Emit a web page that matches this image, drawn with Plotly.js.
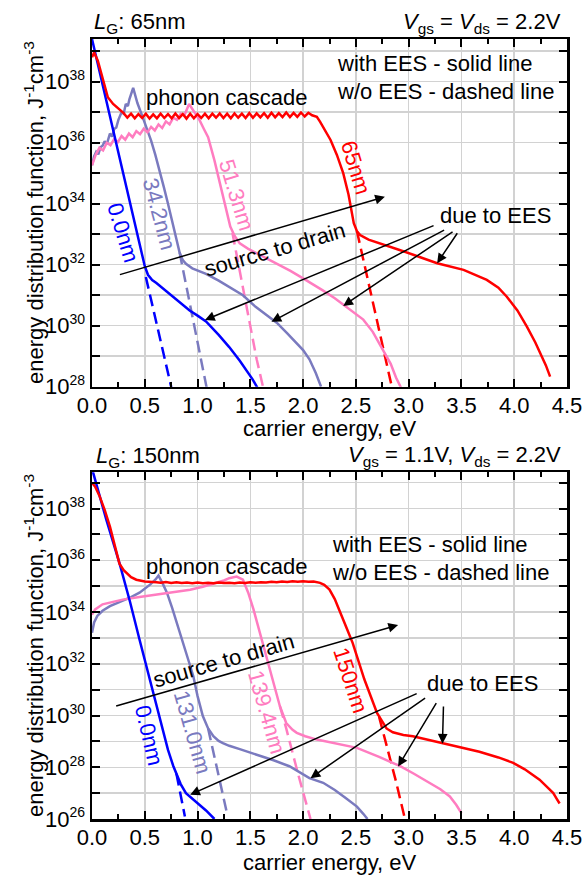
<!DOCTYPE html>
<html>
<head>
<meta charset="utf-8">
<script src="https://cdn.plot.ly/plotly-3.0.1.min.js"></script>
<style>html,body{margin:0;padding:0;background:#fff;}#chart{width:583px;height:878px;}</style>
</head>
<body>
<div id="chart"></div>
<script>
// ===== DATA: energies in eV, values as log10 of J^-1 cm^-3 =====
// ---- Top panel, L_G = 65nm ----
const blueTopE   = [0, 0.1, 0.2, 0.3, 0.4, 0.5, 0.53, 0.57, 0.61, 0.7, 0.8, 0.925, 1.0, 1.08, 1.2, 1.3, 1.4, 1.46, 1.52, 1.57];
const blueTopLog = [39.4, 37.9, 36.4, 34.9, 33.45, 31.95, 31.67, 31.5, 31.4, 31.15, 30.85, 30.5, 30.33, 30.14, 29.7, 29.3, 28.85, 28.55, 28.25, 27.95];
const blueTopDashE   = [0.51, 0.6, 0.7, 0.76];
const blueTopDashLog = [31.6, 30.25, 28.75, 27.85];

const lavTopE   = [0, 0.02, 0.04, 0.06, 0.08, 0.1, 0.12, 0.14, 0.17, 0.19, 0.21, 0.23, 0.25, 0.28, 0.3, 0.32, 0.34, 0.355, 0.39, 0.43, 0.48, 0.52, 0.56, 0.6, 0.64, 0.68, 0.72, 0.76, 0.8, 0.83, 0.86, 0.89, 0.95, 1.02, 1.08, 1.2, 1.32, 1.43, 1.55, 1.65, 1.75, 1.85, 1.93, 2.0, 2.06, 2.12, 2.17];
const lavTopLog = [35.26, 35.55, 35.7, 35.62, 35.85, 35.9, 36.05, 35.95, 36.3, 36.2, 36.45, 36.5, 36.75, 37.0, 36.95, 37.27, 37.2, 37.43, 37.8, 37.3, 36.84, 36.45, 36.07, 35.6, 35.1, 34.55, 34.0, 33.45, 32.9, 32.4, 32.15, 32.03, 31.88, 31.78, 31.7, 31.48, 31.24, 31.0, 30.62, 30.35, 30.1, 29.75, 29.45, 29.2, 28.9, 28.45, 28.0];
const lavTopDashE   = [0.83, 0.9, 0.97, 1.03, 1.09];
const lavTopDashLog = [32.4, 31.2, 30.0, 28.95, 27.9];

const pinkTopE   = [0, 0.035, 0.07, 0.105, 0.14, 0.175, 0.21, 0.245, 0.28, 0.315, 0.35, 0.385, 0.42, 0.455, 0.49, 0.525, 0.56, 0.595, 0.63, 0.665, 0.7, 0.735, 0.77, 0.805, 0.84, 0.875, 0.92, 0.97, 1.02, 1.06, 1.1, 1.16, 1.22, 1.27, 1.31, 1.35, 1.4, 1.48, 1.56, 1.65, 1.75, 1.88, 2.0, 2.1, 2.19, 2.3, 2.38, 2.48, 2.57, 2.66, 2.76, 2.83, 2.88, 2.93];
const pinkTopLog = [35.26, 35.6, 35.83, 35.75, 36.0, 35.92, 36.12, 36.02, 36.22, 36.1, 36.3, 36.18, 36.38, 36.28, 36.46, 36.34, 36.52, 36.4, 36.6, 36.48, 36.7, 36.6, 36.82, 36.75, 36.95, 36.9, 37.27, 37.0, 36.73, 36.45, 36.18, 35.42, 34.55, 33.75, 33.25, 32.95, 32.7, 32.52, 32.38, 32.22, 32.05, 31.8, 31.55, 31.35, 31.15, 30.9, 30.69, 30.45, 30.2, 29.8, 29.2, 28.75, 28.3, 27.95];
const pinkTopDashE   = [1.33, 1.4, 1.48, 1.56, 1.63];
const pinkTopDashLog = [33.05, 31.75, 30.3, 28.9, 27.85];

const redTopE   = [0, 0.02, 0.055, 0.1, 0.15, 0.2, 0.26, 0.3,
  0.335, 0.37, 0.405, 0.44, 0.475, 0.51, 0.545, 0.58, 0.615, 0.65, 0.685, 0.72, 0.755, 0.79, 0.825, 0.86, 0.895, 0.93, 0.965, 1.0, 1.035, 1.07, 1.105, 1.14, 1.175, 1.21, 1.245, 1.28, 1.315, 1.35, 1.385, 1.42, 1.455, 1.49, 1.525, 1.56, 1.595, 1.63, 1.665, 1.7, 1.735, 1.77, 1.805, 1.84, 1.875, 1.91, 1.945, 1.98, 2.015, 2.05, 2.085,
  2.13, 2.16, 2.2, 2.26, 2.32, 2.38, 2.43, 2.46, 2.48, 2.51, 2.54, 2.62, 2.73, 2.9, 3.05, 3.27, 3.52, 3.74, 3.85, 3.93, 4.03, 4.12, 4.2, 4.25, 4.3, 4.34];
const redTopLog = [38.8, 38.96, 38.69, 38.14, 37.49, 37.27, 37.1, 36.97,
  36.82, 36.95, 36.8, 36.94, 36.81, 36.95, 36.79, 36.93, 36.8, 36.95, 36.81, 36.94, 36.8, 36.96, 36.81, 36.94, 36.79, 36.95, 36.8, 36.94, 36.81, 36.95, 36.8, 36.95, 36.82, 36.96, 36.81, 36.95, 36.8, 36.96, 36.82, 36.95, 36.81, 36.97, 36.82, 36.96, 36.83, 36.97, 36.82, 36.98, 36.83, 36.97, 36.84, 36.99, 36.84, 36.98, 36.85, 36.99, 36.86, 36.98, 36.9,
  36.85, 36.69, 36.45, 36.09, 35.6, 35.0, 34.3, 33.69, 33.36, 33.1, 32.97, 32.82, 32.7, 32.5, 32.32, 32.05, 31.83, 31.5, 31.25, 30.95, 30.5, 29.97, 29.45, 29.1, 28.7, 28.33];
const redTopDashE   = [2.51, 2.6, 2.7, 2.78, 2.85];
const redTopDashLog = [33.1, 31.7, 30.15, 28.9, 27.85];

// ---- Bottom panel, L_G = 150nm ----
const blueBotE   = [0, 0.137, 0.263, 0.36, 0.45, 0.52, 0.59, 0.66, 0.72, 0.77, 0.8, 0.84, 0.89, 0.95, 1.01, 1.08, 1.16];
const blueBotLog = [39.55, 37.55, 35.85, 34.4, 32.94, 31.85, 30.74, 29.65, 28.67, 28.05, 27.75, 27.35, 27.0, 26.8, 26.6, 26.33, 26.0];
const blueBotDashE   = [0.8, 0.84, 0.88];
const blueBotDashLog = [27.75, 26.95, 26.1];

const lavBotE   = [0, 0.02, 0.05, 0.1, 0.17, 0.23, 0.29, 0.37, 0.45, 0.5, 0.55, 0.6, 0.63, 0.67, 0.71, 0.76, 0.8, 0.85, 0.88, 0.92, 0.96, 1.0, 1.05, 1.1, 1.15, 1.2, 1.24, 1.3, 1.4, 1.56, 1.72, 1.87, 2.06, 2.19, 2.3, 2.4, 2.51, 2.57, 2.61];
const lavBotLog = [33.2, 33.6, 33.85, 34.05, 34.23, 34.33, 34.42, 34.58, 34.75, 34.9, 35.06, 35.25, 35.41, 35.1, 34.75, 34.15, 33.6, 32.94, 32.55, 32.05, 31.52, 30.75, 29.98, 29.5, 29.2, 29.02, 28.93, 28.83, 28.7, 28.49, 28.27, 28.04, 27.58, 27.4, 27.12, 26.82, 26.48, 26.2, 26.0];
const lavBotDashE   = [1.1, 1.15, 1.21, 1.28];
const lavBotDashLog = [29.5, 28.6, 27.5, 26.2];

const pinkBotE   = [0, 0.03, 0.1, 0.2, 0.29, 0.45, 0.61, 0.78, 0.93, 1.05, 1.18, 1.25, 1.3, 1.37, 1.43, 1.48, 1.53, 1.6, 1.65, 1.7, 1.74, 1.78, 1.84, 1.9, 1.94, 2.02, 2.13, 2.3, 2.51, 2.72, 2.92, 3.05, 3.2, 3.3, 3.39, 3.45, 3.5];
const pinkBotLog = [33.9, 34.1, 34.3, 34.4, 34.48, 34.58, 34.67, 34.76, 34.86, 34.98, 35.12, 35.22, 35.31, 35.37, 35.25, 34.75, 34.1, 33.05, 32.3, 31.55, 30.95, 30.36, 29.71, 29.45, 29.33, 29.2, 29.07, 28.92, 28.75, 28.4, 28.04, 27.75, 27.39, 27.15, 26.87, 26.55, 26.23];
const pinkBotDashE   = [1.78, 1.84, 1.95, 2.07];
const pinkBotDashLog = [30.36, 29.5, 27.78, 26.0];

const redBotE   = [0, 0.03, 0.07, 0.12, 0.17, 0.22, 0.26, 0.3, 0.33, 0.37, 0.42, 0.5, 0.61,
  0.65, 0.7, 0.75, 0.8, 0.85, 0.9, 0.95, 1.0, 1.05, 1.1, 1.15, 1.2, 1.25, 1.3, 1.35, 1.4, 1.45, 1.5, 1.55, 1.6, 1.65, 1.7, 1.75, 1.8, 1.85, 1.9, 1.95, 2.0, 2.05, 2.1,
  2.16, 2.2, 2.25, 2.3, 2.35, 2.41, 2.47, 2.58, 2.7, 2.75, 2.79, 2.85, 2.95, 3.04, 3.2, 3.33, 3.5, 3.67, 3.85, 3.99, 4.1, 4.24, 4.32, 4.37, 4.4, 4.43];
const redBotLog = [39.0, 38.85, 38.5, 37.95, 37.3, 36.55, 35.87, 35.62, 35.5, 35.35, 35.25, 35.18, 35.15,
  35.13, 35.16, 35.12, 35.15, 35.12, 35.14, 35.11, 35.14, 35.11, 35.13, 35.11, 35.14, 35.12, 35.13, 35.11, 35.14, 35.12, 35.15, 35.13, 35.15, 35.14, 35.17, 35.15, 35.18, 35.16, 35.19, 35.17, 35.19, 35.17, 35.18,
  35.13, 35.05, 34.87, 34.5, 33.97, 33.4, 32.8, 31.4, 30.1, 29.75, 29.5, 29.35, 29.25, 29.2, 29.05, 28.93, 28.78, 28.6, 28.38, 28.17, 27.92, 27.52, 27.2, 27.0, 26.8, 26.6];
const redBotDashE   = [2.72, 2.8, 2.88, 2.965];
const redBotDashLog = [29.95, 28.75, 27.45, 26.0];

// ---- axis ticks ----
const yDecadesTop = [28, 29, 30, 31, 32, 33, 34, 35, 36, 37, 38, 39];
const yDecadesBot = [26, 27, 28, 29, 30, 31, 32, 33, 34, 35, 36, 37, 38, 39];
const yLabelledDecades = [26, 28, 30, 32, 34, 36, 38];
const xTickFormat = '.1f';
const yTitleText = 'energy distribution function, J<sup>-1</sup>cm<sup>-3</sup>';
const xTitleText = 'carrier energy, eV';

// ===== STYLE =====
const C = {blue: '#0000ff', lav: '#7a7abf', pink: '#ff7cc0', red: '#ff0000'};
const LW = 2.5;
const DASH = '12px,6px';

function tr(E, L, color, dashed, xa, ya) {
  return {x: E, y: L.map(v => Math.pow(10, v)), type: 'scatter', mode: 'lines',
    xaxis: xa, yaxis: ya, hoverinfo: 'skip', showlegend: false,
    line: {color: color, width: LW, dash: dashed ? DASH : 'solid', shape: 'linear'}};
}

const data = [
  tr(blueTopDashE, blueTopDashLog, C.blue, true, 'x', 'y'),
  tr(lavTopDashE, lavTopDashLog, C.lav, true, 'x', 'y'),
  tr(pinkTopDashE, pinkTopDashLog, C.pink, true, 'x', 'y'),
  tr(redTopDashE, redTopDashLog, C.red, true, 'x', 'y'),
  tr(lavTopE, lavTopLog, C.lav, false, 'x', 'y'),
  tr(pinkTopE, pinkTopLog, C.pink, false, 'x', 'y'),
  tr(blueTopE, blueTopLog, C.blue, false, 'x', 'y'),
  tr(redTopE, redTopLog, C.red, false, 'x', 'y'),
  tr(blueBotDashE, blueBotDashLog, C.blue, true, 'x2', 'y2'),
  tr(lavBotDashE, lavBotDashLog, C.lav, true, 'x2', 'y2'),
  tr(pinkBotDashE, pinkBotDashLog, C.pink, true, 'x2', 'y2'),
  tr(redBotDashE, redBotDashLog, C.red, true, 'x2', 'y2'),
  tr(lavBotE, lavBotLog, C.lav, false, 'x2', 'y2'),
  tr(pinkBotE, pinkBotLog, C.pink, false, 'x2', 'y2'),
  tr(blueBotE, blueBotLog, C.blue, false, 'x2', 'y2'),
  tr(redBotE, redBotLog, C.red, false, 'x2', 'y2')
];

const FONT = 'Liberation Sans, Arial, sans-serif';
const FS = 22;
const GRID = '#d2d2d2';

function yLabel(e) {
  return yLabelledDecades.indexOf(e) >= 0 ? '10<sup><span style="font-size:14px">' + e + '</span></sup>' : '';
}

function xAxis(anchor) {
  return {anchor: anchor, domain: [0, 1], range: [0, 4.5], tick0: 0, dtick: 0.5, tickformat: xTickFormat,
    ticks: 'inside', ticklen: 8, tickwidth: 2, tickcolor: '#000', mirror: 'allticks',
    showline: true, linewidth: 2.5, linecolor: '#000', showgrid: true, gridcolor: GRID, gridwidth: 1.5,
    zeroline: false, tickfont: {size: FS}, ticklabelstandoff: -3,
    minor: {dtick: 0.25, tick0: 0, ticks: 'inside', ticklen: 5, tickwidth: 2, tickcolor: '#000', showgrid: false}};
}
function yAxis(anchor, domain, lo, hi, decades) {
  return {anchor: anchor, domain: domain, type: 'log', range: [lo, hi],
    tickmode: 'array', tickvals: decades.map(e => Math.pow(10, e)), ticktext: decades.map(yLabel),
    ticks: 'inside', ticklen: 8, tickwidth: 2, tickcolor: '#000', mirror: 'allticks',
    showline: true, linewidth: 2.5, linecolor: '#000', showgrid: true, gridcolor: GRID, gridwidth: 1.5,
    zeroline: false, tickfont: {size: FS}};
}

function txt(xa, ya, x, y, text, color, angle, xanchor) {
  return {xref: xa, yref: ya, x: x, y: y, text: text, showarrow: false, textangle: angle || 0,
    font: {size: FS, color: color || '#000'}, xanchor: xanchor || 'center', yanchor: 'middle'};
}
function arr(xa, ya, x, y, ax, ay) {
  return {xref: xa, yref: ya, axref: xa, ayref: ya, x: x, y: y, ax: ax, ay: ay, text: '',
    showarrow: true, arrowhead: 2, arrowsize: 1.3, arrowwidth: 1.5, arrowcolor: '#000', standoff: 0};
}
function paperTxt(x, y, text, xanchor, angle) {
  return {xref: 'paper', yref: 'paper', x: x, y: y, xanchor: xanchor, yanchor: 'middle', showarrow: false,
    text: text, textangle: angle || 0, font: {size: FS}};
}

// paper coordinates: x = (px-92)/475, y = (819-py)/780
const annotations = [
  // axis titles
  paperTxt(-0.122, 0.777, yTitleText, 'center', -90),
  paperTxt(-0.122, 0.222, yTitleText, 'center', -90),
  paperTxt(0.5, 0.5005, xTitleText, 'center'),
  paperTxt(0.5, -0.056, xTitleText, 'center'),
  // headers
  paperTxt(0.0, 1.021, '<i>L</i><sub>G</sub>: 65nm', 'left'),
  paperTxt(0.992, 1.021, '<i>V</i><sub>gs</sub> = <i>V</i><sub>ds</sub> = 2.2V', 'right'),
  paperTxt(0.004, 0.464, '<i>L</i><sub>G</sub>: 150nm', 'left'),
  paperTxt(0.992, 0.466, '<i>V</i><sub>gs</sub> = 1.1V, <i>V</i><sub>ds</sub> = 2.2V', 'right'),

  // top panel texts
  txt('x', 'y', 1.278, 37.47, 'phonon cascade'),
  txt('x', 'y', 2.30, 38.61, 'with EES - solid line', '#000', 0, 'left'),
  txt('x', 'y', 2.30, 37.69, 'w/o EES - dashed line', '#000', 0, 'left'),
  txt('x', 'y', 0.291, 33.04, '0.0nm', C.blue, 73),
  txt('x', 'y', 0.642, 33.66, '34.2nm', C.lav, 75),
  txt('x', 'y', 1.373, 34.28, '51.3nm', C.pink, 73),
  txt('x', 'y', 2.502, 35.2, '65nm', C.red, 73),
  txt('x', 'y', 1.733, 32.51, 'source to drain', '#000', -16),
  txt('x', 'y', 3.82, 33.63, 'due to EES'),
  arr('x', 'y', 2.775, 34.23, 0.25, 31.66),
  arr('x', 'y', 1.07, 30.19, 3.25, 33.3),
  arr('x', 'y', 1.70, 30.13, 3.35, 33.16),
  arr('x', 'y', 2.38, 30.65, 3.43, 33.11),
  arr('x', 'y', 3.27, 32.05, 3.47, 33.08),

  // bottom panel texts
  txt('x2', 'y2', 1.278, 35.75, 'phonon cascade'),
  txt('x2', 'y2', 2.255, 36.6, 'with EES - solid line', '#000', 0, 'left'),
  txt('x2', 'y2', 2.255, 35.51, 'w/o EES - dashed line', '#000', 0, 'left'),
  txt('x2', 'y2', 0.538, 29.22, '0.0nm', C.blue, 77),
  txt('x2', 'y2', 0.951, 29.33, '131.0nm', C.lav, 74),
  txt('x2', 'y2', 1.653, 30.1, '139.4nm', C.pink, 74),
  txt('x2', 'y2', 2.445, 31.38, '150nm', C.red, 72),
  txt('x2', 'y2', 1.25, 32.11, 'source to drain', '#000', -16),
  txt('x2', 'y2', 3.70, 31.23, 'due to EES'),
  arr('x2', 'y2', 2.90, 33.5, 0.215, 30.35),
  arr('x2', 'y2', 0.93, 26.94, 3.09, 30.87),
  arr('x2', 'y2', 2.07, 27.58, 3.17, 30.71),
  arr('x2', 'y2', 2.90, 28.03, 3.27, 30.54),
  arr('x2', 'y2', 3.32, 28.91, 3.33, 30.41)
];

const layout = {
  width: 583, height: 878,
  margin: {l: 92, r: 16, t: 39, b: 59},
  paper_bgcolor: '#fff', plot_bgcolor: '#fff',
  font: {family: FONT, size: FS, color: '#000'},
  showlegend: false,
  xaxis: xAxis('y'),
  yaxis: yAxis('x', [0.5542, 1], 28, 39.4, yDecadesTop),
  xaxis2: xAxis('y2'),
  yaxis2: yAxis('x2', [0, 0.4444], 26, 39.4, yDecadesBot),
  annotations: annotations
};

Plotly.newPlot('chart', data, layout, {displayModeBar: false, staticPlot: true});
</script>
</body>
</html>
